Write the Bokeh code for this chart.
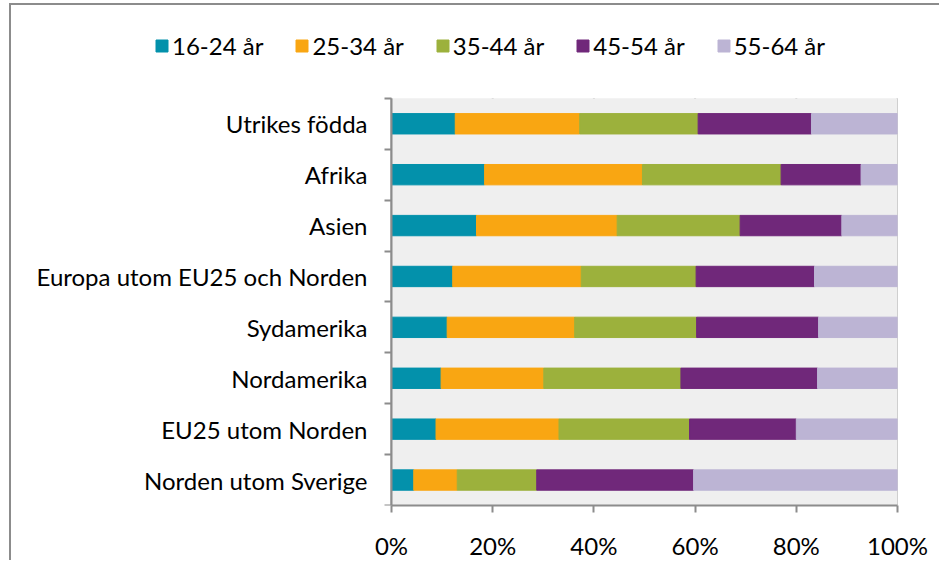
from bokeh.plotting import figure
from bokeh.models import ColumnDataSource, Range1d, FixedTicker, PrintfTickFormatter, Legend, BoxAnnotation
from bokeh.embed import file_html
from bokeh.resources import INLINE

categories = ["Utrikes födda", "Afrika", "Asien", "Europa utom EU25 och Norden",
              "Sydamerika", "Nordamerika", "EU25 utom Norden", "Norden utom Sverige"]
ages = ["16-24 år", "25-34 år", "35-44 år", "45-54 år", "55-64 år"]
v16_24 = [12.6, 18.4, 16.8, 12.1, 11.0, 9.8, 8.8, 4.4]
v25_34 = [24.6, 31.2, 27.8, 25.4, 25.2, 20.3, 24.3, 8.6]
v35_44 = [23.4, 27.4, 24.3, 22.7, 24.1, 27.1, 25.8, 15.7]
v45_54 = [22.4, 15.8, 20.1, 23.4, 24.1, 27.0, 21.1, 31.0]
v55_64 = [17.0, 7.2, 11.0, 16.4, 15.6, 15.8, 20.0, 40.3]
x_ticks = [0, 20, 40, 60, 80, 100]

colors = ["#0391ab", "#f9a612", "#9cb13c", "#70287a", "#bcb4d4"]
FONT = "Lato"
GRAY = "#8c8c8c"

# layout constants (pixels)
W, H = 930, 557
LEFT_GAP = 380      # from figure left to the 0% line
PLOT_W = 506        # 0% .. 100%
BAND = 51           # one category band
TOP, BOTTOM = 10, 56

n = len(categories)
ypos = [n - i - 0.5 for i in range(n)]
data = dict(y=ypos, **{a: v for a, v in zip(ages, [v16_24, v25_34, v35_44, v45_54, v55_64])})
frame_h = H - TOP - BOTTOM

p = figure(width=W, height=H, output_backend="svg", toolbar_location=None,
           x_range=Range1d(-100 * LEFT_GAP / PLOT_W, 100),
           y_range=Range1d(0, frame_h / BAND),
           min_border_left=0, min_border_right=W - LEFT_GAP - PLOT_W,
           min_border_top=TOP, min_border_bottom=BOTTOM)
p.background_fill_color = "white"
p.border_fill_color = "white"
p.outline_line_color = None
p.styles = {"border-left": "2px solid #8c8c8c", "border-top": "2px solid #8c8c8c",
            "margin-left": "9px", "margin-top": "3px"}

# plot-area background and vertical grid lines
p.add_layout(BoxAnnotation(left=0, right=100, bottom=0, top=n, fill_color="#efefef",
                           fill_alpha=1, line_color=None, level="underlay"))
p.segment(x0=x_ticks, y0=[0] * len(x_ticks), x1=x_ticks, y1=[n] * len(x_ticks),
          line_color=GRAY, line_width=2, level="underlay")

renderers = p.hbar_stack(ages, y="y", height=0.4, color=colors, source=ColumnDataSource(data))

legend = Legend(items=[(a, [r]) for a, r in zip(ages, renderers)], orientation="horizontal",
                location=(143, 445), border_line_color=None, background_fill_alpha=0,
                label_text_font=FONT, label_text_font_size="24px", label_text_color="black",
                glyph_width=15, glyph_height=15, label_standoff=3, spacing=31,
                padding=0, margin=0)
p.add_layout(legend, "center")

# x axis
p.xaxis.bounds = (0, 100)
p.xaxis.ticker = FixedTicker(ticks=x_ticks)
p.xaxis.formatter = PrintfTickFormatter(format="%d%%")
p.xaxis.axis_line_color = GRAY
p.xaxis.axis_line_width = 2
p.xaxis.major_tick_line_color = GRAY
p.xaxis.major_tick_line_width = 2
p.xaxis.major_tick_out = 7
p.xaxis.major_tick_in = 0
p.xaxis.minor_tick_line_color = None
p.xaxis.major_label_standoff = 18
p.xaxis.major_label_text_font = FONT
p.xaxis.major_label_text_font_size = "24px"
p.xaxis.major_label_text_color = "black"

# y axis, fixed at 0%
p.yaxis.fixed_location = 0
p.yaxis.bounds = (0, n)
p.yaxis.ticker = FixedTicker(ticks=ypos, minor_ticks=list(range(0, n + 1)))
p.yaxis.major_label_overrides = {y: c for y, c in zip(ypos, categories)}
p.yaxis.axis_line_color = GRAY
p.yaxis.axis_line_width = 2
p.yaxis.major_tick_line_color = None
p.yaxis.major_tick_out = 0
p.yaxis.major_tick_in = 0
p.yaxis.minor_tick_line_color = GRAY
p.yaxis.minor_tick_line_width = 2
p.yaxis.minor_tick_out = 7
p.yaxis.minor_tick_in = 0
p.yaxis.major_label_standoff = 17
p.yaxis.major_label_text_font = FONT
p.yaxis.major_label_text_font_size = "24px"
p.yaxis.major_label_text_color = "black"

p.xgrid.visible = False
p.ygrid.visible = False

open("out.html", "w").write(file_html(p, INLINE))
